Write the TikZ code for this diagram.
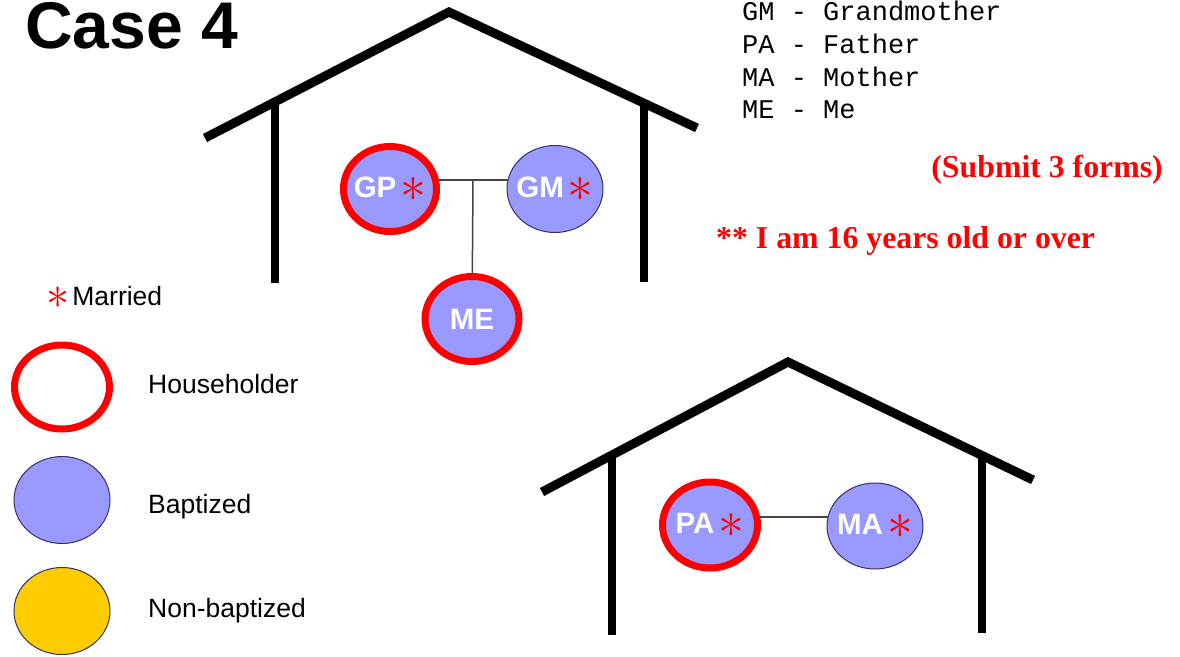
\RequirePackage{fix-cm}
\documentclass[tikz,border=0pt]{standalone}
\usepackage{fontspec}
\setmainfont{Liberation Sans}
\newfontfamily\serifb{Liberation Serif}
\newfontfamily\monof{Liberation Mono}
\usetikzlibrary{shapes.geometric}
\definecolor{lav}{HTML}{9999FF}
\definecolor{hred}{HTML}{FF0000}
\definecolor{navy}{HTML}{333366}
\definecolor{gold}{HTML}{FFCC00}
\definecolor{conn}{HTML}{444444}
\pgfdeclarelayer{back}
\pgfdeclarelayer{bg}
\pgfsetlayers{back,bg,main}
\tikzset{
  person/.style={ellipse, fill=lav, draw=navy, line width=1pt, inner sep=0pt,
    font=\bfseries\fontsize{29.5}{29.5}\selectfont, text=white},
  holder/.style={person, draw=hred, line width=7pt},
  roofline/.style={line width=9pt, line join=miter},
  wallline/.style={line width=8pt},
  link/.style={draw=conn, line width=1.5pt},
  legtext/.style={anchor=base west, font=\fontsize{26.5}{26.5}\selectfont},
  monotext/.style={anchor=base west, font=\monof\fontsize{27}{27}\selectfont},
  redtext/.style={text=hred, font=\serifb\bfseries\fontsize{31.8}{31.8}\selectfont},
}
\newcommand{\redast}{\textcolor{hred}{\raisebox{-3.5pt}{\scalebox{1.75}{$\ast$}}}}
\newcommand{\pname}[1]{\makebox[0pt]{#1}}
\begin{document}
\begin{tikzpicture}[x=1pt,y=-1pt]
\useasboundingbox (0,0) rectangle (1180,656);
\begin{pgfonlayer}{back}
\fill[white] (0,0) rectangle (1180,656);
\end{pgfonlayer}

% title
\node[anchor=base west, inner sep=0pt, font=\bfseries\fontsize{66}{66}\selectfont] (title) at (25,48) {Case 4};

% house 1
\draw[roofline] (205,138) -- (449,12) -- (697,128);
\draw[wallline] (275,105) -- (275,283);
\draw[wallline] (644,105) -- (644,282);

% house 2
\draw[roofline] (542,492) -- (788,362) -- (1033,480);
\draw[wallline] (612,457) -- (612,635);
\draw[wallline] (982,458) -- (982,633);

% people
\node[holder, minimum width=93pt, minimum height=85pt] (GP) at (390,189) {\pname{GP\hspace{4pt}\redast}};
\node[person, minimum width=96pt, minimum height=87pt] (GM) at (555,189) {\pname{GM\hspace{4pt}\redast}};
\node[holder, minimum width=94pt, minimum height=85pt] (ME) at (472,319) {\pname{ME}};
\node[holder, minimum width=95pt, minimum height=86pt] (PA) at (710,525) {\pname{PA\hspace{4pt}\redast}};
\node[person, minimum width=96pt, minimum height=86pt] (MA) at (875,526) {\pname{MA\hspace{4pt}\redast}};

\coordinate (j1) at (473,180);
\coordinate (j2) at (790,517);
\begin{pgfonlayer}{bg}
\draw[link] (GP.center |- j1) -- (GM.center |- j1);
\draw[link] (j1) -- (ME.center);
\draw[link] (PA.center |- j2) -- (MA.center |- j2);
\end{pgfonlayer}

% abbreviations
\node[monotext, inner sep=0pt] (lgm) at (742,20) {GM - Grandmother};
\node[monotext, inner sep=0pt] (lpa) at (742,53) {PA - Father};
\node[monotext, inner sep=0pt] (lma) at (742,86) {MA - Mother};
\node[monotext, inner sep=0pt] (lme) at (742,118) {ME - Me};

% red notes
\node[redtext, anchor=base east, inner sep=0pt] (submit) at (1163,177) {(Submit 3 forms)};
\node[redtext, anchor=base west, inner sep=0pt] (age) at (716,248) {** I am 16 years old or over};

% legend
\node[legtext, inner sep=0pt] (married) at (46,305) {\redast\hspace{3pt}Married};
\node[ellipse, draw=hred, line width=7pt, fill=white, minimum width=95pt, minimum height=84pt, inner sep=0pt] (lh) at (62,387) {};
\node[legtext, inner sep=0pt] (lht) at (148,393) {Householder};
\node[ellipse, draw=navy, line width=1pt, fill=lav, minimum width=96pt, minimum height=87pt, inner sep=0pt] (lb) at (62,500) {};
\node[legtext, inner sep=0pt] (lbt) at (148,513) {Baptized};
\node[ellipse, draw=navy, line width=1pt, fill=gold, minimum width=96pt, minimum height=87pt, inner sep=0pt] (ln) at (62,611) {};
\node[legtext, inner sep=0pt] (lnt) at (148,617) {Non-baptized};
\end{tikzpicture}
\end{document}
